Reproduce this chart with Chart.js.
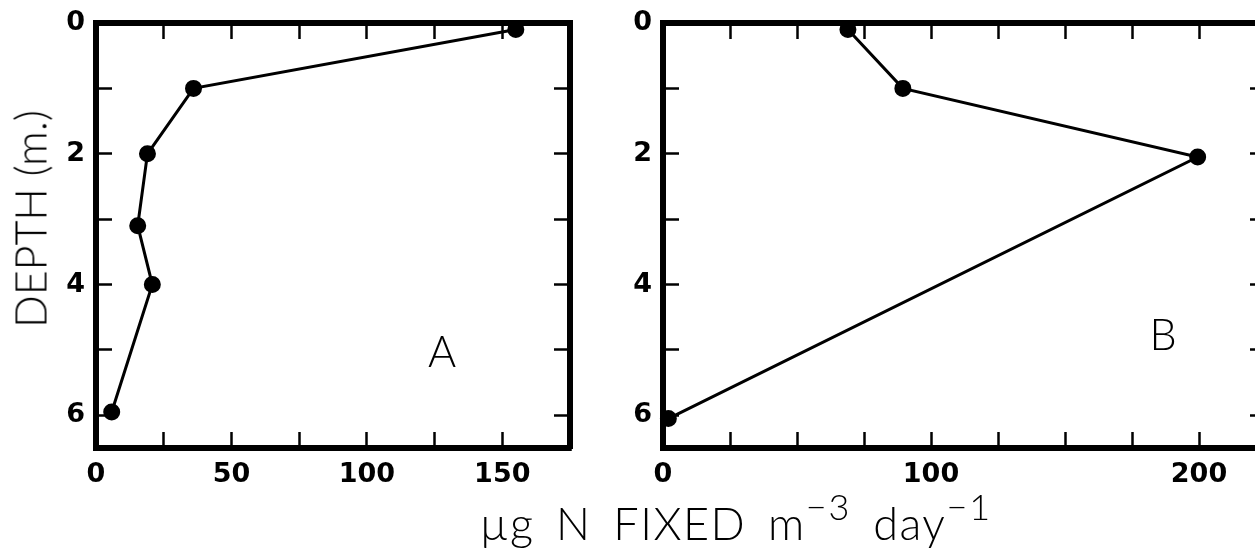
<!DOCTYPE html>
<html>
<head>
<meta charset="utf-8">
<script src="https://cdn.jsdelivr.net/npm/chart.js@4.4.1/dist/chart.umd.min.js"></script>
<style>
    html, body { margin: 0; padding: 0; background: #fff; overflow: hidden; }
    #lienzo { position: relative; width: 1255px; height: 549px; overflow: hidden; background: #fff; }
    canvas { position: absolute; top: 0; }
    #graficoA { left: 0; }
    #graficoB { left: 610px; }
    .texto {
        position: absolute;
        font-family: "Lato", "Open Sans", "DejaVu Sans", sans-serif;
        font-weight: 300;
        font-size: 43px;
        line-height: 1;
        color: #000;
        white-space: nowrap;
        transform: translate(-50%, -50%);
    }
    #tituloY { left: 30px; top: 219px; transform: translate(-50%, -50%) rotate(-90deg); }
    #letraA { left: 442px; top: 350px; }
    #letraB { left: 1163px; top: 333px; }
    #tituloX { left: 736px; top: 523px; font-size: 45px; letter-spacing: 1.5px; word-spacing: 8px; }
    .sup { font-size: 0.8em; position: relative; top: -0.55em; word-spacing: 0; letter-spacing: 2px; }
</style>
</head>
<body>
<div id="lienzo">
    <canvas id="graficoA" width="610" height="549"></canvas>
    <canvas id="graficoB" width="700" height="549"></canvas>
    <div class="texto" id="tituloY">DEPTH (m.)</div>
    <div class="texto" id="letraA">A</div>
    <div class="texto" id="letraB">B</div>
    <div class="texto" id="tituloX">µg N FIXED m<span class="sup">−3</span> day<span class="sup">−1</span></div>
</div>
<script>
// valores
const profundidadA = [0.1, 1, 2, 3.1, 4, 5.95];
const nitrogenoA = [155, 36, 19, 15.4, 20.8, 5.8];
const profundidadB = [0.1, 1, 2.05, 6.05];
const nitrogenoB = [69, 89.5, 199.5, 2];

const etiquetasProfundidad = [0, 2, 4, 6];
const etiquetasXA = [0, 50, 100, 150];
const etiquetasXB = [0, 100, 200];

const maxProfundidad = 6.5;
const maxXA = 175;
const maxXB = 225;

const fuenteTicks = { family: "DejaVu Sans", weight: "bold", size: 27 };

function sinRelleno(s) {
    s.paddingTop = 0;
    s.paddingBottom = 0;
    s.paddingLeft = 0;
    s.paddingRight = 0;
}

function ejeBase(extra) {
    return Object.assign({
        type: "linear",
        grid: {
            display: true,
            drawOnChartArea: false,
            drawTicks: true,
            tickLength: -16,
            tickWidth: 2.5,
            tickColor: "#000"
        },
        border: { display: true, width: 6, color: "#000" }
    }, extra);
}

function crearGrafico(id, xs, ys, maxX, etiquetasX, medidas) {
    const puntos = xs.map((x, i) => ({ x: x, y: ys[i] }));
    const ctx = document.getElementById(id).getContext("2d");

    return new Chart(ctx, {
        type: "scatter",
        data: {
            datasets: [{
                data: puntos,
                showLine: true,
                borderColor: "#000",
                borderWidth: 3,
                backgroundColor: "#000",
                pointBackgroundColor: "#000",
                pointBorderColor: "#000",
                pointRadius: 7,
                tension: 0,
                clip: false
            }]
        },
        options: {
            responsive: false,
            devicePixelRatio: 1,
            animation: false,
            layout: { padding: 0 },
            plugins: {
                legend: { display: false },
                tooltip: { enabled: false },
                title: { display: false }
            },
            scales: {
                x: ejeBase({
                    position: "bottom",
                    min: 0,
                    max: maxX,
                    ticks: {
                        stepSize: 25,
                        autoSkip: false,
                        maxRotation: 0,
                        padding: 27,
                        color: "#000",
                        font: fuenteTicks,
                        callback: v => etiquetasX.includes(v) ? String(v) : ""
                    },
                    afterFit: s => { s.height = medidas.abajo; sinRelleno(s); }
                }),
                x2: ejeBase({
                    axis: "x",
                    position: "top",
                    min: 0,
                    max: maxX,
                    ticks: { stepSize: 25, display: false, autoSkip: false },
                    afterFit: s => { s.height = medidas.arriba; sinRelleno(s); }
                }),
                y: ejeBase({
                    position: "left",
                    reverse: true,
                    min: 0,
                    max: maxProfundidad,
                    ticks: {
                        stepSize: 1,
                        includeBounds: false,
                        autoSkip: false,
                        padding: 27,
                        color: "#000",
                        font: fuenteTicks,
                        callback: v => etiquetasProfundidad.includes(v) ? String(v) : ""
                    },
                    afterFit: s => { s.width = medidas.izq; sinRelleno(s); }
                }),
                y2: ejeBase({
                    axis: "y",
                    position: "right",
                    reverse: true,
                    min: 0,
                    max: maxProfundidad,
                    ticks: { stepSize: 1, includeBounds: false, display: false, autoSkip: false },
                    afterFit: s => { s.width = medidas.der; sinRelleno(s); }
                })
            }
        }
    });
}

window.addEventListener("DOMContentLoaded", () => {
    crearGrafico("graficoA", nitrogenoA, profundidadA, maxXA, etiquetasXA,
        { izq: 96, der: 40, arriba: 23, abajo: 101 });
    crearGrafico("graficoB", nitrogenoB, profundidadB, maxXB, etiquetasXB,
        { izq: 53, der: 44, arriba: 23, abajo: 101 });
});
</script>
</body>
</html>
